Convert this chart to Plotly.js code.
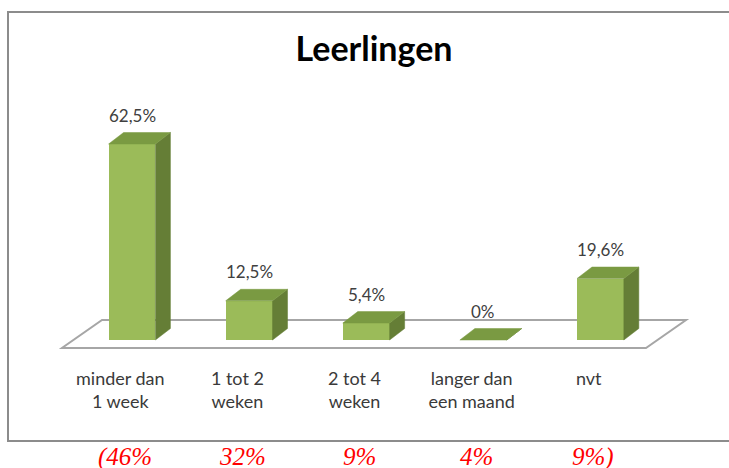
<!DOCTYPE html>
<html>
<head>
<meta charset="utf-8">
<script src="https://cdn.plot.ly/plotly-3.0.1.min.js"></script>
<style>html,body{margin:0;padding:0;background:#fff;}#chart{width:729px;height:468px;}</style>
</head>
<body>
<div id="chart"></div>
<script>
// ---- data ----
const categories = ['minder dan<br>1 week', '1 tot 2<br>weken', '2 tot 4<br>weken', 'langer dan<br>een maand', 'nvt'];
const values = [62.5, 12.5, 5.4, 0, 19.6];
const otherValues = [46, 32, 9, 4, 9];
const chartTitle = 'Leerlingen';

// ---- style / geometry ----
const barW = 0.40;      // bar width in category units
const depthX = 0.128;   // 3D depth offset (x units)
const depthY = 3.67;    // 3D depth offset (y units)
const colFront = '#9BBB59', colSide = '#657E36', colTop = '#7A9A42';
const idx = values.map((_, i) => i);

function fmt(v) { return String(v).replace('.', ',') + '%'; }

const frontTrace = {
  type: 'bar', x: idx, y: values, width: barW,
  marker: {color: colFront, line: {width: 0}},
  hoverinfo: 'skip', showlegend: false
};
const sideX = [], sideY = [], topX = [], topY = [];
idx.forEach(i => {
  const v = values[i], l = i - barW / 2, r = i + barW / 2;
  sideX.push(r, r + depthX, r + depthX, r, r, null);
  sideY.push(0, depthY, v + depthY, v, 0, null);
  topX.push(l, r, r + depthX, l + depthX, l, null);
  topY.push(v, v, v + depthY, v + depthY, v, null);
});
const sideTrace = {type: 'scatter', mode: 'lines', x: sideX, y: sideY, fill: 'toself',
  fillcolor: colSide, line: {width: 0.5, color: colSide}, hoverinfo: 'skip', showlegend: false};
const topTrace = {type: 'scatter', mode: 'lines', x: topX, y: topY, fill: 'toself',
  fillcolor: colTop, line: {width: 0.5, color: colTop}, hoverinfo: 'skip', showlegend: false};

const annotations = idx.map(i => ({
  x: i, y: values[i] + depthY, xref: 'x', yref: 'y', text: fmt(values[i]),
  showarrow: false, yanchor: 'bottom', yshift: 5,
  font: {family: 'Lato', size: 17, color: '#404040'}
}));
otherValues.forEach((v, i) => {
  let t = v + '%';
  if (i === 0) t = '(' + t;
  if (i === otherValues.length - 1) t = t + ')';
  annotations.push({
    x: i - 0.06, y: (366 - 457) / 354, xref: 'x', yref: 'paper', text: '<i>' + t + '</i>',
    showarrow: false, yanchor: 'middle',
    font: {family: 'Liberation Serif', size: 25, color: '#FF0000'}
  });
});

const layout = {
  width: 729, height: 468,
  margin: {l: 8, r: 0, t: 12, b: 102},
  paper_bgcolor: '#fff', plot_bgcolor: '#fff',
  title: {text: '<b>' + chartTitle + '</b>', font: {family: 'Lato', size: 34, color: '#000'},
    x: 374 / 729, xref: 'container', xanchor: 'center', y: 1 - 49 / 468, yref: 'container', yanchor: 'middle'},
  xaxis: {range: [-1.059, 5.098], tickvals: idx.map(i => i - 0.1), ticktext: categories,
    showgrid: false, zeroline: false, showline: false, ticks: '',
    tickfont: {family: 'Lato', size: 18, color: '#3a3a3a'}, fixedrange: true},
  yaxis: {range: [-8.29, 104.6], visible: false, fixedrange: true},
  shapes: [
    {type: 'path', xref: 'x', yref: 'y', layer: 'below',
      path: 'M -0.598 -2.55 L 4.389 -2.55 L 4.731 6.38 L -0.256 6.38 Z',
      line: {color: '#A6A6A6', width: 2}, fillcolor: 'rgba(0,0,0,0)'},
    {type: 'rect', xref: 'paper', yref: 'paper', x0: 0, x1: 1.02, y0: -0.2119, y1: 1,
      line: {color: '#8C8C8C', width: 2}, fillcolor: 'rgba(0,0,0,0)'}
  ],
  annotations: annotations,
  bargap: 0
};

Plotly.newPlot('chart', [frontTrace, sideTrace, topTrace], layout, {displayModeBar: false, staticPlot: true});
</script>
</body>
</html>
